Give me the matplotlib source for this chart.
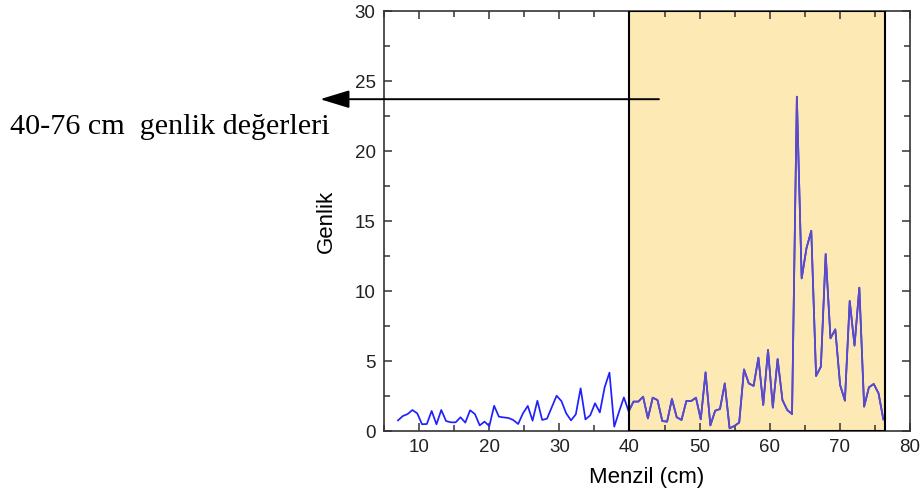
import numpy as np
import matplotlib
matplotlib.use("Agg")
import matplotlib.pyplot as plt
from matplotlib.patches import Rectangle
from matplotlib.ticker import MultipleLocator

# Range grid (cm): evenly sampled from first to last sample
range_first = 7.0
range_last = 76.2

# Amplitude per range sample
amplitude = [
    0.76, 1.07, 1.21, 1.50, 1.26, 0.48, 0.50, 1.43, 0.48, 1.50,
    0.71, 0.62, 0.62, 0.98, 0.60, 1.48, 1.21, 0.40, 0.67, 0.35,
    1.80, 1.02, 0.97, 0.93, 0.78, 0.50, 1.26, 1.79, 0.74, 2.16,
    0.79, 0.88, 1.70, 2.52, 2.14, 1.26, 0.76, 1.19, 3.05, 0.83,
    1.12, 1.98, 1.33, 3.12, 4.17, 0.31, 1.38, 2.40, 1.40, 2.10,
    2.10, 2.45, 0.90, 2.38, 2.21, 0.71, 0.67, 2.29, 0.98, 0.79,
    2.14, 2.14, 2.38, 0.83, 4.19, 0.40, 1.45, 1.57, 3.40, 0.19,
    0.36, 0.60, 4.40, 3.40, 3.22, 5.24, 1.86, 5.79, 1.67, 5.14,
    2.21, 1.50, 1.21, 23.88, 10.90, 13.05, 14.30, 3.93, 4.60, 12.64,
    6.62, 7.26, 3.29, 2.17, 9.29, 6.10, 10.24, 1.74, 3.12, 3.36,
    2.69, 0.83,
]
range_cm = np.linspace(range_first, range_last, len(amplitude))

# Highlighted window (cm)
window_start = 40.0
window_end = 76.4

x_limits = (5, 80)
y_limits = (0, 30)

label_text = "40-76 cm  genlik değerleri"
arrow_from = (44.2, 23.7)
arrow_to_x = -4.1

plt.rcParams["font.family"] = ["Liberation Sans", "DejaVu Sans"]

fig = plt.figure(figsize=(9.21, 4.99), dpi=100)
ax = fig.add_axes([384 / 921, 68 / 499, (910 - 384) / 921, (431 - 11) / 499])

# full trace in blue
ax.plot(range_cm, amplitude, color="#2020FF", lw=1.25, zorder=2)

# shaded window
window = Rectangle((window_start, y_limits[0]), window_end - window_start,
                   y_limits[1] - y_limits[0], facecolor="#FDE9B3",
                   edgecolor="none", zorder=1.5)
ax.add_patch(window)

# trace inside the window drawn again in violet
inner, = ax.plot(range_cm, amplitude, color="#5B4CC6", lw=1.25, zorder=3)
inner.set_clip_path(Rectangle((window_start, y_limits[0]), window_end - window_start,
                              y_limits[1] - y_limits[0], transform=ax.transData))
outline = Rectangle((window_start, y_limits[0]), window_end - window_start,
                    y_limits[1] - y_limits[0], facecolor="none",
                    edgecolor="black", lw=1.5, zorder=4)
ax.add_patch(outline)

ax.set_xlim(*x_limits)
ax.set_ylim(*y_limits)
ax.xaxis.set_major_locator(MultipleLocator(10))
ax.xaxis.set_minor_locator(MultipleLocator(5))
ax.yaxis.set_major_locator(MultipleLocator(5))
ax.yaxis.set_minor_locator(MultipleLocator(2.5))

for side in ax.spines.values():
    side.set_color("#333333")
    side.set_linewidth(1.2)

ax.tick_params(which="both", direction="in", top=True, right=True,
               color="#333333", width=1.1, labelsize=13.5, pad=6,
               labelcolor="#222222")
ax.tick_params(which="major", length=6)
ax.tick_params(which="minor", length=4)

ax.set_xlabel("Menzil (cm)", fontsize=16, labelpad=8)
ax.set_ylabel("Genlik", fontsize=16, labelpad=13)

# arrow pointing to the caption outside the axes
ax.annotate("", xy=(arrow_to_x, arrow_from[1]), xytext=arrow_from,
            xycoords="data", textcoords="data", annotation_clip=False,
            arrowprops=dict(arrowstyle="-|>,head_length=1.8,head_width=0.55",
                            color="black", lw=1.4, mutation_scale=10,
                            shrinkA=0, shrinkB=0),
            zorder=5)

fig.text(10 / 921, (499 - 134) / 499, label_text, fontsize=21.7,
         family=["Liberation Serif", "DejaVu Serif"], va="baseline", ha="left")

fig.savefig("out.png", dpi=100)
